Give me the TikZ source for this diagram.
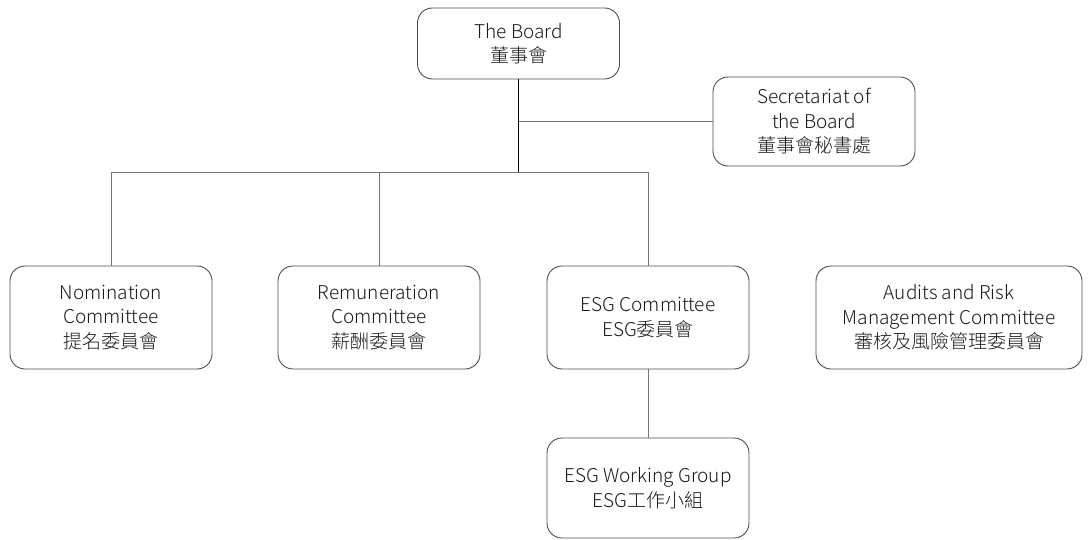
\documentclass[tikz,border=0pt]{standalone}
\usepackage{fontspec}
\setmainfont{Noto Sans CJK TC Light}
\begin{document}
\begin{tikzpicture}[x=1pt,y=-1pt,
  orgbox/.style={draw=black!70, line width=0.9pt, rounded corners=15pt,
    inner sep=0pt, align=center, text=black!90,
    font=\fontsize{19}{24.5}\selectfont, minimum width=202pt},
  link/.style={draw=black!55, line width=0.9pt},
  mainlink/.style={draw=black, line width=1.1pt}]
\useasboundingbox (0,0) rectangle (1091,540);
\node[orgbox, minimum height=71pt] (board) at (518.5,43.5) {The Board\\董事會};
\node[orgbox, minimum height=89pt] (sec) at (814,121.5) {Secretariat of\\the Board\\董事會秘書處};
\node[orgbox, minimum height=103pt] (nom) at (111,317.5) {Nomination\\Committee\\提名委員會};
\node[orgbox, minimum height=103pt] (rem) at (379,317.5) {Remuneration\\Committee\\薪酬委員會};
\node[orgbox, minimum height=103pt] (esg) at (648,317.5) {ESG Committee\\ESG委員會};
\node[orgbox, minimum height=103pt, minimum width=266pt] (aud) at (949,317.5) {Audits and Risk\\Management Committee\\審核及風險管理委員會};
\node[orgbox, minimum height=100pt] (wg) at (648,488) {ESG Working Group\\ESG工作小組};
\coordinate (j) at (518.5,172);
\coordinate (js) at (518.5,121.5);
\draw[link] (js) -- (sec.west);
\draw[link] (nom.north |- j) -- (esg.north |- j);
\draw[mainlink] (board.south) -- (j);
\draw[link] (nom.north |- j) -- (nom.north);
\draw[link] (rem.north |- j) -- (rem.north);
\draw[link] (esg.north |- j) -- (esg.north);
\draw[link] (esg.south) -- (wg.north);
\end{tikzpicture}
\end{document}
